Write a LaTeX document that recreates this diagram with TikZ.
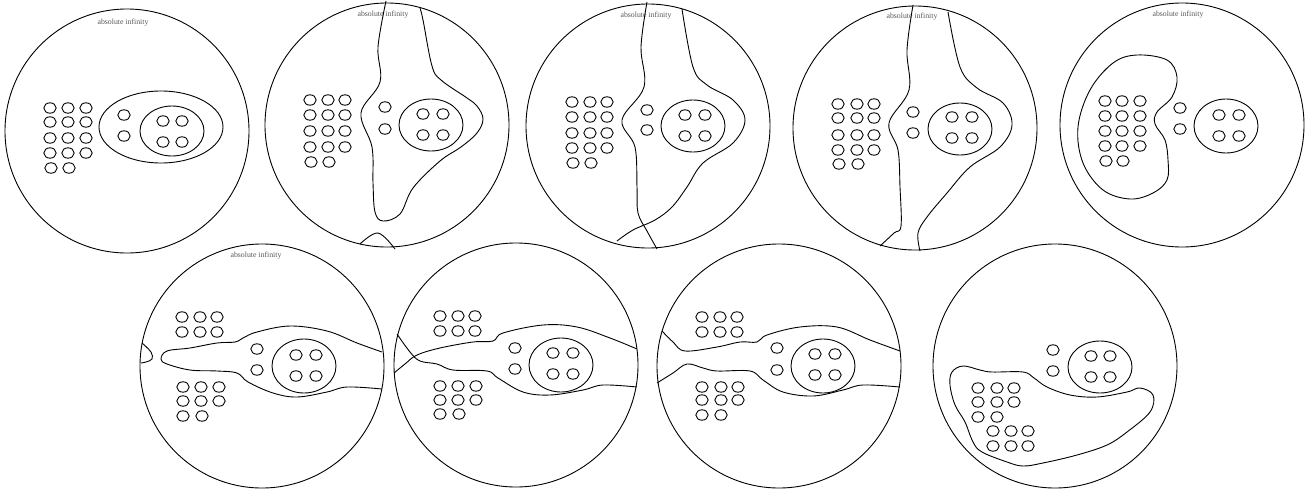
\documentclass[tikz,border=0pt]{standalone}
\usepackage{fontspec}
\setmainfont{Liberation Serif}
\usetikzlibrary{positioning}

\begin{document}
\begin{tikzpicture}[x=1pt, y=-1pt,
    world/.style={draw, circle, line width=0.9pt, minimum size=244pt, inner sep=0pt},
    dot/.style={line width=0.9pt, x radius=6.2pt, y radius=5.2pt},
    ring/.style={line width=0.9pt},
    border/.style={line width=0.9pt, smooth, tension=0.6},
    tag/.style={font=\fontsize{7.8}{9}\selectfont, text=black!65, inner sep=0pt}
  ]
  \useasboundingbox (0,0) rectangle (1312,490);

  % top row
  \node[world] (w1) at (127,131) {};
  \node[world] (w2) at (387,125) {};
  \node[world] (w3) at (648,126) {};
  \node[world] (w4) at (915,128) {};
  \node[world] (w5) at (1182,125) {};
  % bottom row
  \node[world] (w6) at (262,366) {};
  \node[world] (w7) at (516,365) {};
  \node[world] (w8) at (779,366) {};
  \node[world] (w9) at (1055,366) {};

  \node[tag] (t1) at (123,23) {absolute infinity};
  \node[tag] (t2) at (383,15) {absolute infinity};
  \node[tag] (t3) at (646,16) {absolute infinity};
  \node[tag] (t4) at (912,17) {absolute infinity};
  \node[tag] (t5) at (1178,15) {absolute infinity};
  \node[tag] (t6) at (256,256) {absolute infinity};

  % world 1
  \foreach \y in {108,122,138,153} \foreach \x in {50,68,86} \draw[dot] (\x,\y) ellipse [];
  \foreach \x in {51,69} \draw[dot] (\x,168) ellipse [];
  \draw[ring] (161,127) ellipse [x radius=62pt, y radius=36pt];
  \foreach \y in {115,136} \draw[dot] (124,\y) ellipse [];
  \draw[ring] (172,131) ellipse [x radius=32pt, y radius=25pt];
  \foreach \x in {163,182} \foreach \y in {121,142} \draw[dot] (\x,\y) ellipse [];

  % world 2
  \foreach \y in {100,115,131,147} \foreach \x in {310,328,345} \draw[dot] (\x,\y) ellipse [];
  \foreach \x in {311,329} \draw[dot] (\x,162) ellipse [];
  \foreach \y in {107,129} \draw[dot] (385,\y) ellipse [];
  \draw[ring] (431,125) ellipse [x radius=32pt, y radius=26pt];
  \foreach \x in {423,443} \foreach \y in {114,135} \draw[dot] (\x,\y) ellipse [];
  \draw[border] plot coordinates {(386,1) (378,47) (380,82) (361,113) (372,147)
    (373,183) (375,212) (383,221) (400,214) (413,188) (440,161) (461,147)
    (477,133) (483,119) (477,106) (467,98) (441,80) (432,66) (423,20) (420,8)};
  \draw[border] plot coordinates {(360,244) (378,233) (395,249)};

  % world 3
  \foreach \y in {102,117,133,148} \foreach \x in {572,590,607} \draw[dot] (\x,\y) ellipse [];
  \foreach \x in {573,591} \draw[dot] (\x,163) ellipse [];
  \foreach \y in {110,130} \draw[dot] (647,\y) ellipse [];
  \draw[ring] (693,126) ellipse [x radius=32pt, y radius=26pt];
  \foreach \x in {685,705} \foreach \y in {115,136} \draw[dot] (\x,\y) ellipse [];
  \draw[border] plot coordinates {(647,2) (641,47) (644,87) (622,120) (635,147)
    (637,187) (638,213) (647,231) (657,249)};
  \draw[border] plot coordinates {(682,9) (693,67) (707,85) (733,100) (745,120)
    (733,143) (703,163) (687,187) (672,207) (655,220) (633,230) (617,241)};

  % world 4
  \foreach \y in {104,118,135,150} \foreach \x in {838,857,874} \draw[dot] (\x,\y) ellipse [];
  \foreach \x in {839,858} \draw[dot] (\x,164) ellipse [];
  \foreach \y in {112,133} \draw[dot] (913,\y) ellipse [];
  \draw[ring] (960,129) ellipse [x radius=32pt, y radius=26pt];
  \foreach \x in {952,972} \foreach \y in {117,138} \draw[dot] (\x,\y) ellipse [];
  \draw[border] plot coordinates {(913,5) (907,50) (909,90) (889,123) (898,150)
    (900,187) (901,226) (894,233) (880,246)};
  \draw[border] plot coordinates {(948,12) (960,67) (977,88) (1003,103) (1012,125)
    (1000,147) (970,167) (947,193) (927,217) (918,233) (920,251)};

  % world 5
  \foreach \y in {101,116,131,146} \foreach \x in {1105,1122,1140} \draw[dot] (\x,\y) ellipse [];
  \foreach \x in {1106,1123} \draw[dot] (\x,161) ellipse [];
  \foreach \y in {108,129} \draw[dot] (1180,\y) ellipse [];
  \draw[ring] (1226,126) ellipse [x radius=32pt, y radius=27pt];
  \foreach \x in {1219,1239} \foreach \y in {115,136} \draw[dot] (\x,\y) ellipse [];
  \draw[border] plot[smooth cycle] coordinates {(1137,55) (1167,60) (1177,77)
    (1172,97) (1157,112) (1155,124) (1165,140) (1168,160) (1167,180) (1153,193)
    (1130,199) (1103,190) (1083,163) (1078,127) (1090,90) (1113,63)};

  % world 6
  \foreach \y in {317,332} \foreach \x in {182,200,217} \draw[dot] (\x,\y) ellipse [];
  \foreach \y in {387,401} \foreach \x in {183,201,219} \draw[dot] (\x,\y) ellipse [];
  \foreach \x in {183,202} \draw[dot] (\x,416) ellipse [];
  \foreach \y in {349,370} \draw[dot] (257,\y) ellipse [];
  \draw[ring] (304,366) ellipse [x radius=32pt, y radius=27pt];
  \foreach \x in {296,316} \foreach \y in {355,376} \draw[dot] (\x,\y) ellipse [];
  \draw[border] plot coordinates {(382,352) (357,343) (327,331) (290,326) (257,332)
    (243,338) (235,342) (217,343) (190,348) (167,351) (161,359) (167,364) (190,370)
    (217,371) (237,373) (248,382) (273,393) (297,397) (327,392) (347,387) (382,389)};
  \draw[border] plot coordinates {(142,343) (151,352) (152,359) (146,362) (141,363)};

  % world 7
  \foreach \y in {316,331} \foreach \x in {440,458,475} \draw[dot] (\x,\y) ellipse [];
  \foreach \y in {386,400} \foreach \x in {440,458,476} \draw[dot] (\x,\y) ellipse [];
  \foreach \x in {440,459} \draw[dot] (\x,414) ellipse [];
  \foreach \y in {348,369} \draw[dot] (515,\y) ellipse [];
  \draw[ring] (561,365) ellipse [x radius=32pt, y radius=27pt];
  \foreach \x in {553,573} \foreach \y in {353,374} \draw[dot] (\x,\y) ellipse [];
  \draw[border] plot coordinates {(637,349) (610,338) (577,327) (543,325) (503,333)
    (493,341) (473,342) (440,348) (417,355) (405,364) (394,373)};
  \draw[border] plot coordinates {(397,334) (410,352) (420,361) (437,364) (453,370)
    (487,371) (498,378) (523,392) (550,395) (583,390) (603,385) (637,387)};

  % world 8
  \foreach \y in {317,332} \foreach \x in {702,720,737} \draw[dot] (\x,\y) ellipse [];
  \foreach \y in {387,400} \foreach \x in {702,721,738} \draw[dot] (\x,\y) ellipse [];
  \foreach \x in {702,721} \draw[dot] (\x,415) ellipse [];
  \foreach \y in {348,370} \draw[dot] (777,\y) ellipse [];
  \draw[ring] (823,366) ellipse [x radius=32pt, y radius=27pt];
  \foreach \x in {815,835} \foreach \y in {354,375} \draw[dot] (\x,\y) ellipse [];
  \draw[border] plot coordinates {(662,331) (673,342) (685,351) (717,347) (740,342)
    (757,342) (767,335) (800,327) (837,327) (870,340) (900,351)};
  \draw[border] plot coordinates {(657,383) (673,373) (687,364) (703,368) (717,371)
    (750,371) (763,380) (783,392) (813,396) (843,390) (863,385) (900,387)};

  % world 9
  \foreach \y in {388,402} \foreach \x in {978,997,1014} \draw[dot] (\x,\y) ellipse [];
  \foreach \x in {978,997} \draw[dot] (\x,417) ellipse [];
  \foreach \y in {431,446} \foreach \x in {993,1011,1028} \draw[dot] (\x,\y) ellipse [];
  \foreach \y in {350,371} \draw[dot] (1053,\y) ellipse [];
  \draw[ring] (1100,367) ellipse [x radius=32pt, y radius=26pt];
  \foreach \x in {1091,1110} \foreach \y in {356,377} \draw[dot] (\x,\y) ellipse [];
  \draw[border] plot[smooth cycle] coordinates {(952,372) (963,366) (980,370)
    (992,372) (1023,372) (1034,378) (1047,387) (1070,395) (1097,397) (1127,392)
    (1140,388) (1153,395) (1150,412) (1127,432) (1107,445) (1077,455) (1043,463)
    (1023,466) (1007,462) (982,452) (973,442) (965,422) (955,405) (950,385)};
\end{tikzpicture}
\end{document}
